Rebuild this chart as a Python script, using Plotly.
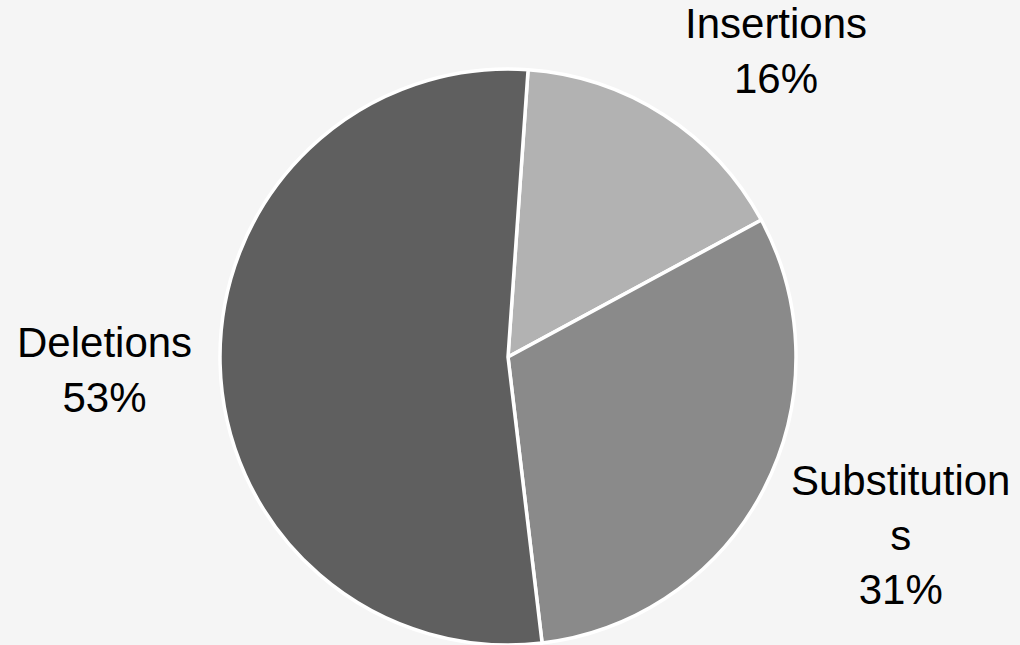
import plotly.graph_objects as go

labels = ["Insertions", "Substitutions", "Deletions"]
label_text = ["Insertions", "Substitution<br>s", "Deletions"]
values = [16, 31, 53]
colors = ["#b2b2b2", "#8a8a8a", "#5f5f5f"]

# label block centers (pixels) for the outside labels
label_px = [(776, 51), (900, 535), (104, 370)]

W, H = 1020, 645
cx, cy, r = 508, 357, 288

fig = go.Figure(go.Pie(
    labels=labels,
    values=values,
    sort=False,
    direction="clockwise",
    rotation=4,
    marker=dict(colors=colors, line=dict(color="white", width=3.5)),
    textinfo="none",
    hoverinfo="label+percent",
    showlegend=False,
    domain=dict(x=[(cx - r) / W, (cx + r) / W], y=[(H - cy - r) / H, (H - cy + r) / H]),
))

total = sum(values)
for lab, v, (px, py) in zip(label_text, values, label_px):
    fig.add_annotation(
        x=px / W, y=1 - py / H, xref="paper", yref="paper",
        xanchor="center", yanchor="middle",
        text=f"{lab}<br>{round(100 * v / total)}%",
        showarrow=False,
        font=dict(family="Liberation Sans, Arial, Helvetica, sans-serif", size=42, color="#000000"),
        align="center",
    )

fig.update_layout(
    width=W, height=H,
    margin=dict(l=0, r=0, t=0, b=0),
    paper_bgcolor="#f5f5f5",
    plot_bgcolor="#f5f5f5",
)

fig.write_html("out.html")
